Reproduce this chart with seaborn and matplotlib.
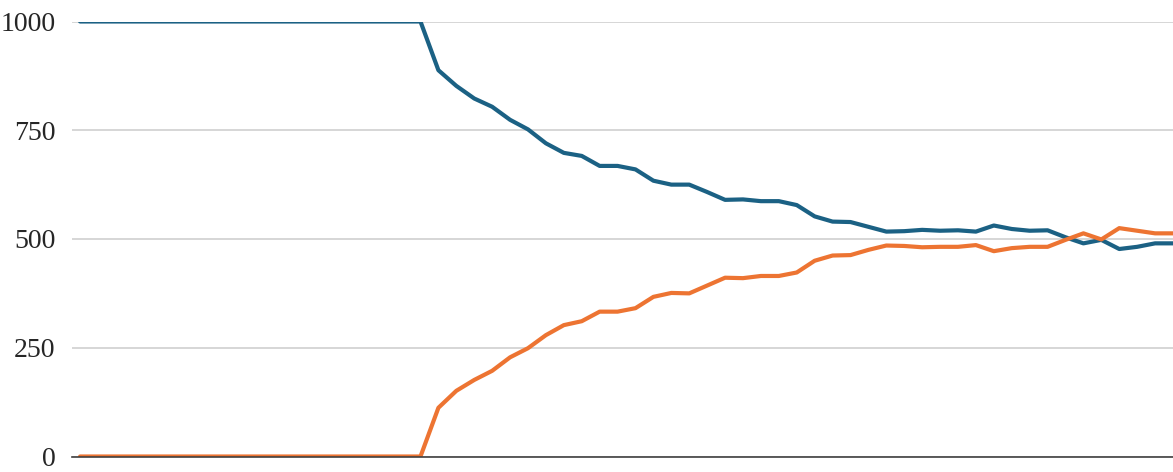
import numpy as np
import pandas as pd
import seaborn as sns
import matplotlib.pyplot as plt

# data
steps = list(range(62))
blue_vals = [1000] * 20 + [
    888, 852, 823, 804, 774, 752, 720, 698, 691, 668, 668, 660, 634,
    625, 625, 608, 590, 591, 587, 587, 578, 552, 540, 539, 528, 517,
    518, 521, 519, 520, 517, 531, 523, 519, 520, 504, 490, 498, 477,
    482, 490, 490,
]
orange_vals = [0] * 20 + [
    112, 151, 176, 197, 228, 249, 279, 302, 311, 333, 333, 341, 367,
    376, 375, 393, 411, 410, 415, 415, 423, 450, 462, 463, 475, 485,
    484, 481, 482, 482, 486, 472, 479, 482, 482, 498, 513, 499, 525,
    519, 513, 513,
]
y_ticks = [0, 250, 500, 750, 1000]

df = pd.DataFrame({
    'step': steps * 2,
    'value': blue_vals + orange_vals,
    'series': ['blue'] * len(steps) + ['orange'] * len(steps),
})

sns.set_style('white')
plt.rcParams['font.family'] = ['Liberation Serif', 'DejaVu Serif']

fig = plt.figure(figsize=(11.73, 4.72), dpi=100)
ax = fig.add_axes([72 / 1173, 15.5 / 472, 1 - 72 / 1173, (456.5 - 21.5) / 472])

sns.lineplot(data=df, x='step', y='value', hue='series',
             palette={'blue': '#1b6184', 'orange': '#ed7432'},
             linewidth=3.0, legend=False, ax=ax, zorder=3)

ax.set_xlim(-0.45, 61)
ax.set_ylim(0, 1000)
ax.set_yticks(y_ticks)
ax.set_yticklabels([str(t) for t in y_ticks], fontsize=20)
ax.set_xticks([])
ax.set_xlabel('')
ax.set_ylabel('')
ax.yaxis.grid(True, color='#d0d0d0', linewidth=1.2, zorder=0)
ax.tick_params(axis='y', length=0, pad=12)
for side in ['top', 'right', 'left']:
    ax.spines[side].set_visible(False)
ax.spines['bottom'].set_color('#404040')
ax.spines['bottom'].set_linewidth(1.2)
ax.spines['bottom'].set_zorder(4)

fig.savefig('out.png', dpi=100)
